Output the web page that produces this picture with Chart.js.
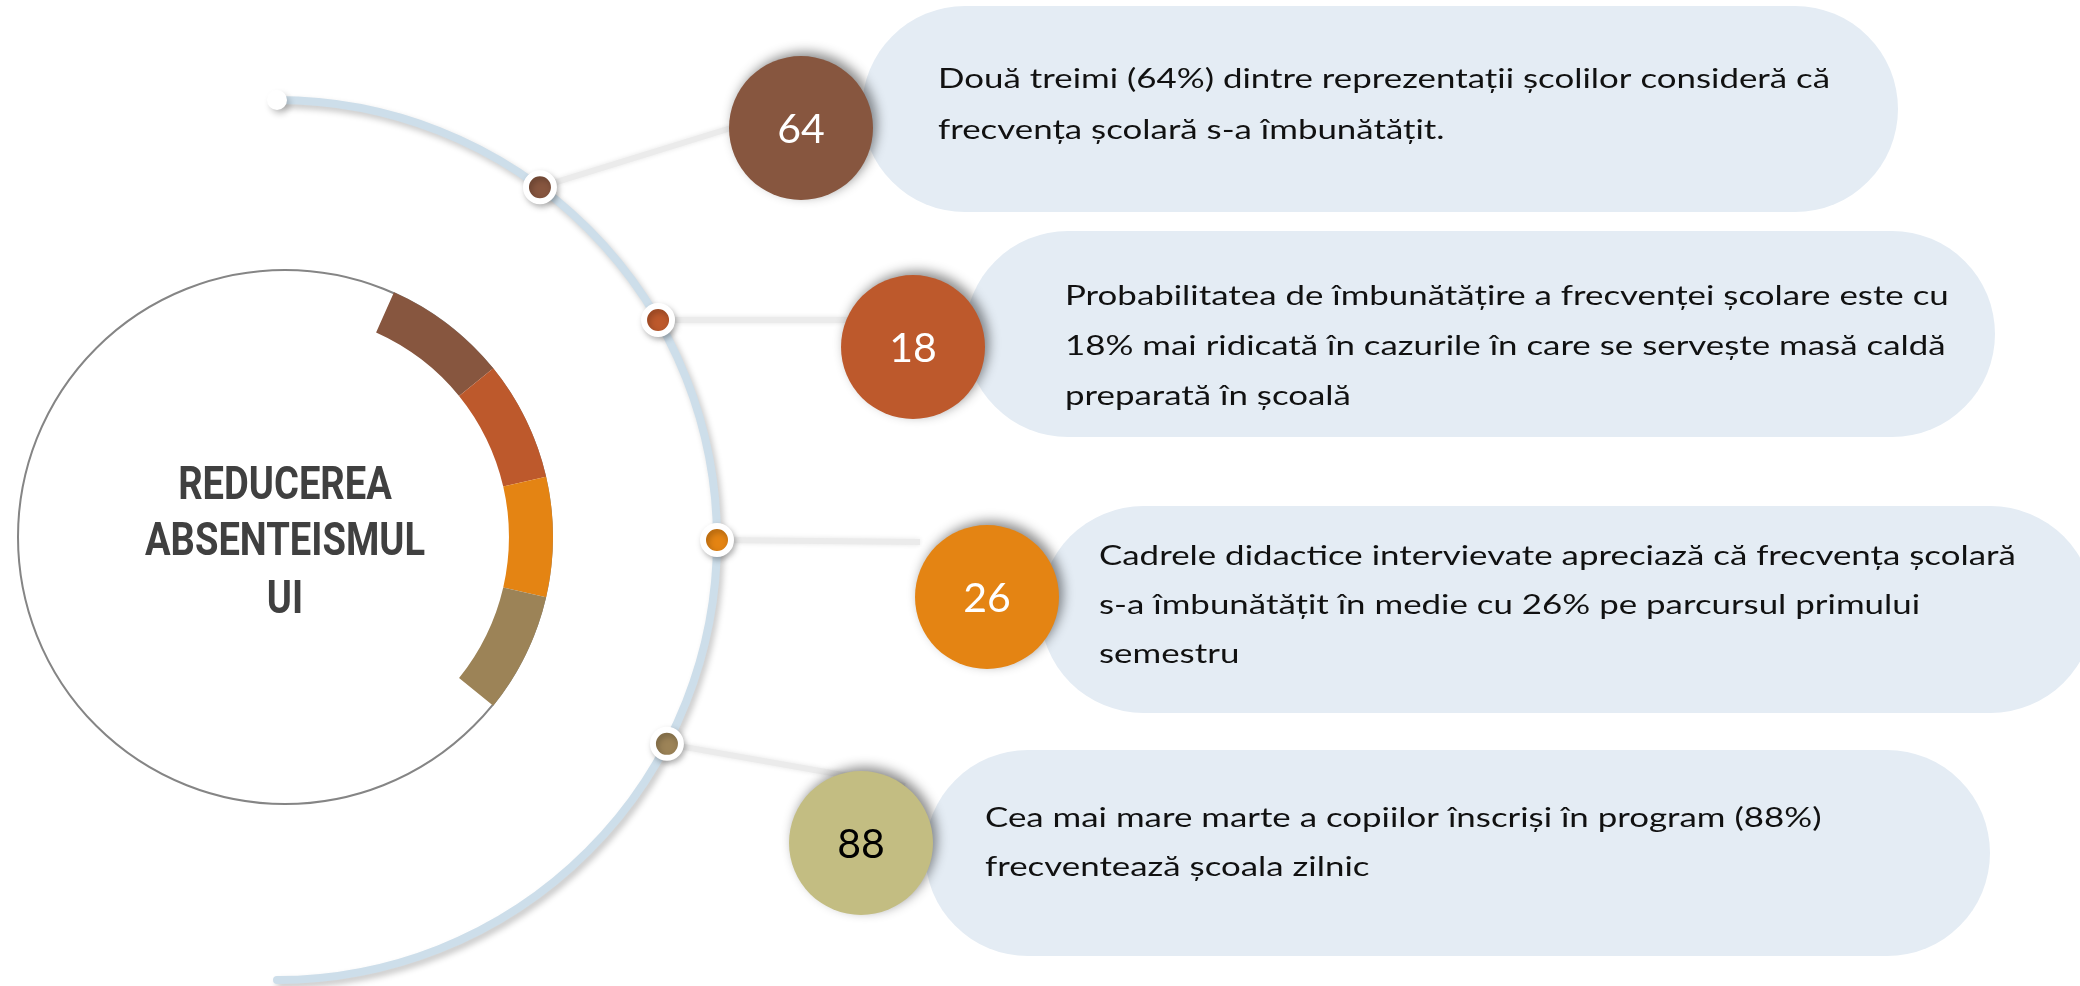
<!DOCTYPE html>
<html>
<head>
<meta charset="utf-8">
<script src="https://cdn.jsdelivr.net/npm/chart.js@4.4.0/dist/chart.umd.min.js"></script>
<style>
  html, body { margin: 0; padding: 0; background: #fff; }
  #wrap { position: relative; width: 2080px; height: 986px; overflow: hidden; }
  #main { position: absolute; left: 0; top: 0; }
  #ring { position: absolute; left: 5px; top: 257px; }
</style>
</head>
<body>
<div id="wrap">
  <canvas id="main" width="2080" height="986"></canvas>
  <canvas id="ring" width="560" height="560"></canvas>
</div>
<script>
// data
const values = [64, 18, 26, 88];
const descriptions = [
  ["Două treimi (64%) dintre reprezentații școlilor consideră că",
   "frecvența școlară s-a îmbunătățit."],
  ["Probabilitatea de îmbunătățire a frecvenței școlare este cu",
   "18% mai ridicată în cazurile în care se servește masă caldă",
   "preparată în școală"],
  ["Cadrele didactice intervievate apreciază că frecvența școlară",
   "s-a îmbunătățit în medie cu 26% pe parcursul primului",
   "semestru"],
  ["Cea mai mare marte a copiilor înscriși în program (88%)",
   "frecventează școala zilnic"]
];
const ringSpans = [27, 26, 26, 26];   // degrees of each ring segment
const centerTitle = ["REDUCEREA", "ABSENTEISMUL", "UI"];

// colours
const colors = ["#87563f", "#bd592c", "#e48413", "#9c8357"];
const circleColors = ["#87563f", "#bd592c", "#e48413", "#c3bd82"];
const numberColors = ["#ffffff", "#ffffff", "#ffffff", "#000000"];
const pillColor = "#e4ecf4";

// layout (pixels)
const arc = { cx: 277, cy: 540, r: 440 };
const dotAngles = [36.7, 60, 90, 117.6];
const circleCenters = [[801, 128], [913, 347], [987, 597], [861, 843]];
const connectorEnds = [[731, 128], [850, 320], [920, 542], [905, 786]];
const pills = [[862, 6, 1898, 212], [965, 231, 1995, 437], [1040, 506, 2094, 713], [925, 750, 1990, 956]];
const textX = [938, 1065, 1099, 985];
const textBaselines = [[88, 139], [305, 355, 405], [565, 614, 663], [827, 876]];

function scaledText(ctx, str, x, y, sx) {
  ctx.save();
  ctx.translate(x, y);
  ctx.scale(sx, 1);
  ctx.fillText(str, 0, 0);
  ctx.restore();
}

function pillPath(ctx, l, t, r, b) {
  const h = (b - t) / 2;
  ctx.beginPath();
  ctx.moveTo(l + h, t);
  ctx.lineTo(r - h, t);
  ctx.arc(r - h, t + h, h, -Math.PI / 2, Math.PI / 2);
  ctx.lineTo(l + h, b);
  ctx.arc(l + h, t + h, h, Math.PI / 2, Math.PI * 1.5);
  ctx.closePath();
}

const decor = {
  id: "decor",
  beforeDatasetsDraw(chart) {
    const ctx = chart.ctx;
    const xs = chart.scales.x, ys = chart.scales.y;
    const px = v => xs.getPixelForValue(v), py = v => ys.getPixelForValue(v);

    // big arc
    ctx.save();
    ctx.shadowColor = "rgba(0,0,0,0.22)";
    ctx.shadowBlur = 6;
    ctx.shadowOffsetX = 3;
    ctx.shadowOffsetY = 4;
    ctx.strokeStyle = "#cddeea";
    ctx.lineWidth = 8;
    ctx.lineCap = "round";
    ctx.beginPath();
    ctx.arc(px(arc.cx), py(arc.cy), arc.r, -Math.PI / 2, Math.PI / 2);
    ctx.stroke();
    // white start cap
    ctx.fillStyle = "#ffffff";
    ctx.beginPath();
    ctx.arc(px(arc.cx), py(arc.cy - arc.r), 10, 0, Math.PI * 2);
    ctx.fill();
    ctx.restore();

    // connectors
    const dm = chart.getDatasetMeta(1);
    ctx.save();
    ctx.strokeStyle = "#ebebeb";
    ctx.lineWidth = 6;
    ctx.shadowColor = "rgba(0,0,0,0.10)";
    ctx.shadowBlur = 5;
    dm.data.forEach((pt, i) => {
      ctx.beginPath();
      ctx.moveTo(pt.x, pt.y);
      ctx.lineTo(px(connectorEnds[i][0]), py(connectorEnds[i][1]));
      ctx.stroke();
    });
    ctx.restore();

    // pills
    ctx.save();
    ctx.fillStyle = pillColor;
    pills.forEach(p => {
      pillPath(ctx, px(p[0]), py(p[1]), px(p[2]), py(p[3]));
      ctx.fill();
    });
    ctx.restore();
  },
  beforeDatasetDraw(chart, args) {
    const ctx = chart.ctx;
    ctx.save();
    if (args.index === 0) {
      ctx.shadowColor = "rgba(0,0,0,0.45)";
      ctx.shadowBlur = 12;
      ctx.shadowOffsetX = 4;
      ctx.shadowOffsetY = -4;
    } else {
      ctx.shadowColor = "rgba(0,0,0,0.25)";
      ctx.shadowBlur = 6;
      ctx.shadowOffsetX = 2;
      ctx.shadowOffsetY = 3;
    }
  },
  afterDatasetDraw(chart) {
    chart.ctx.restore();
  },
  afterDatasetsDraw(chart) {
    const ctx = chart.ctx;
    const xs = chart.scales.x, ys = chart.scales.y;
    const cm = chart.getDatasetMeta(0);

    // numbers
    ctx.save();
    ctx.font = "41px Lato";
    ctx.textAlign = "center";
    ctx.textBaseline = "alphabetic";
    cm.data.forEach((pt, i) => {
      ctx.fillStyle = numberColors[i];
      ctx.fillText(String(values[i]), pt.x, pt.y + 15);
    });
    ctx.restore();

    // descriptions
    ctx.save();
    ctx.font = "27px Lato";
    ctx.fillStyle = "#111111";
    ctx.textAlign = "left";
    const sx = 892 / ctx.measureText(descriptions[0][0]).width;
    descriptions.forEach((lines, i) => {
      lines.forEach((line, j) => {
        scaledText(ctx, line, xs.getPixelForValue(textX[i]), ys.getPixelForValue(textBaselines[i][j]), sx);
      });
    });
    ctx.restore();
  }
};

const ringDecor = {
  id: "ringDecor",
  beforeDatasetsDraw(chart) {
    const ctx = chart.ctx;
    const a = chart.chartArea;
    const cx = (a.left + a.right) / 2, cy = (a.top + a.bottom) / 2;
    ctx.save();
    ctx.strokeStyle = "#858585";
    ctx.lineWidth = 2;
    ctx.beginPath();
    ctx.arc(cx, cy, 267, 0, Math.PI * 2);
    ctx.stroke();
    ctx.restore();
  },
  afterDatasetsDraw(chart) {
    const ctx = chart.ctx;
    const a = chart.chartArea;
    const cx = (a.left + a.right) / 2, cy = (a.top + a.bottom) / 2;
    ctx.save();
    ctx.font = "bold 46px Roboto";
    ctx.fillStyle = "#404040";
    ctx.textAlign = "center";
    const sx = 280 / ctx.measureText(centerTitle[1]).width;
    const base = [cy - 38, cy + 18, cy + 76];
    centerTitle.forEach((t, i) => scaledText(ctx, t, cx, base[i], sx));
    ctx.restore();
  }
};

function init() {
  const dotPoints = dotAngles.map(a => ({
    x: arc.cx + arc.r * Math.sin(a * Math.PI / 180),
    y: arc.cy - arc.r * Math.cos(a * Math.PI / 180)
  }));
  const circlePoints = circleCenters.map(c => ({ x: c[0], y: c[1] }));

  new Chart(document.getElementById("main"), {
    type: "scatter",
    data: {
      datasets: [
        { label: "values", data: circlePoints, pointRadius: 72, pointHoverRadius: 72,
          backgroundColor: circleColors, borderWidth: 0 },
        { label: "dots", data: dotPoints, pointRadius: 14, pointHoverRadius: 14,
          backgroundColor: colors, borderColor: "#ffffff", borderWidth: 6 }
      ]
    },
    options: {
      responsive: false,
      animation: false,
      events: [],
      clip: false,
      layout: { padding: 0, autoPadding: false },
      scales: {
        x: { type: "linear", min: 0, max: 2080, display: false },
        y: { type: "linear", min: 0, max: 986, reverse: true, display: false }
      },
      plugins: { legend: { display: false }, tooltip: { enabled: false } }
    },
    plugins: [decor]
  });

  const gap = 360 - ringSpans.reduce((s, v) => s + v, 0);
  new Chart(document.getElementById("ring"), {
    type: "doughnut",
    data: {
      labels: ["64", "18", "26", "88", ""],
      datasets: [{
        data: [...ringSpans, gap],
        backgroundColor: [...colors, "rgba(0,0,0,0)"],
        borderWidth: 0
      }]
    },
    options: {
      responsive: false,
      animation: false,
      events: [],
      rotation: 24,
      radius: 268,
      cutout: 234,
      plugins: { legend: { display: false }, tooltip: { enabled: false } }
    },
    plugins: [ringDecor]
  });
}

Promise.all([
  document.fonts.load("27px Lato"),
  document.fonts.load("41px Lato"),
  document.fonts.load("bold 46px Roboto")
]).then(init, init);
</script>
</body>
</html>
